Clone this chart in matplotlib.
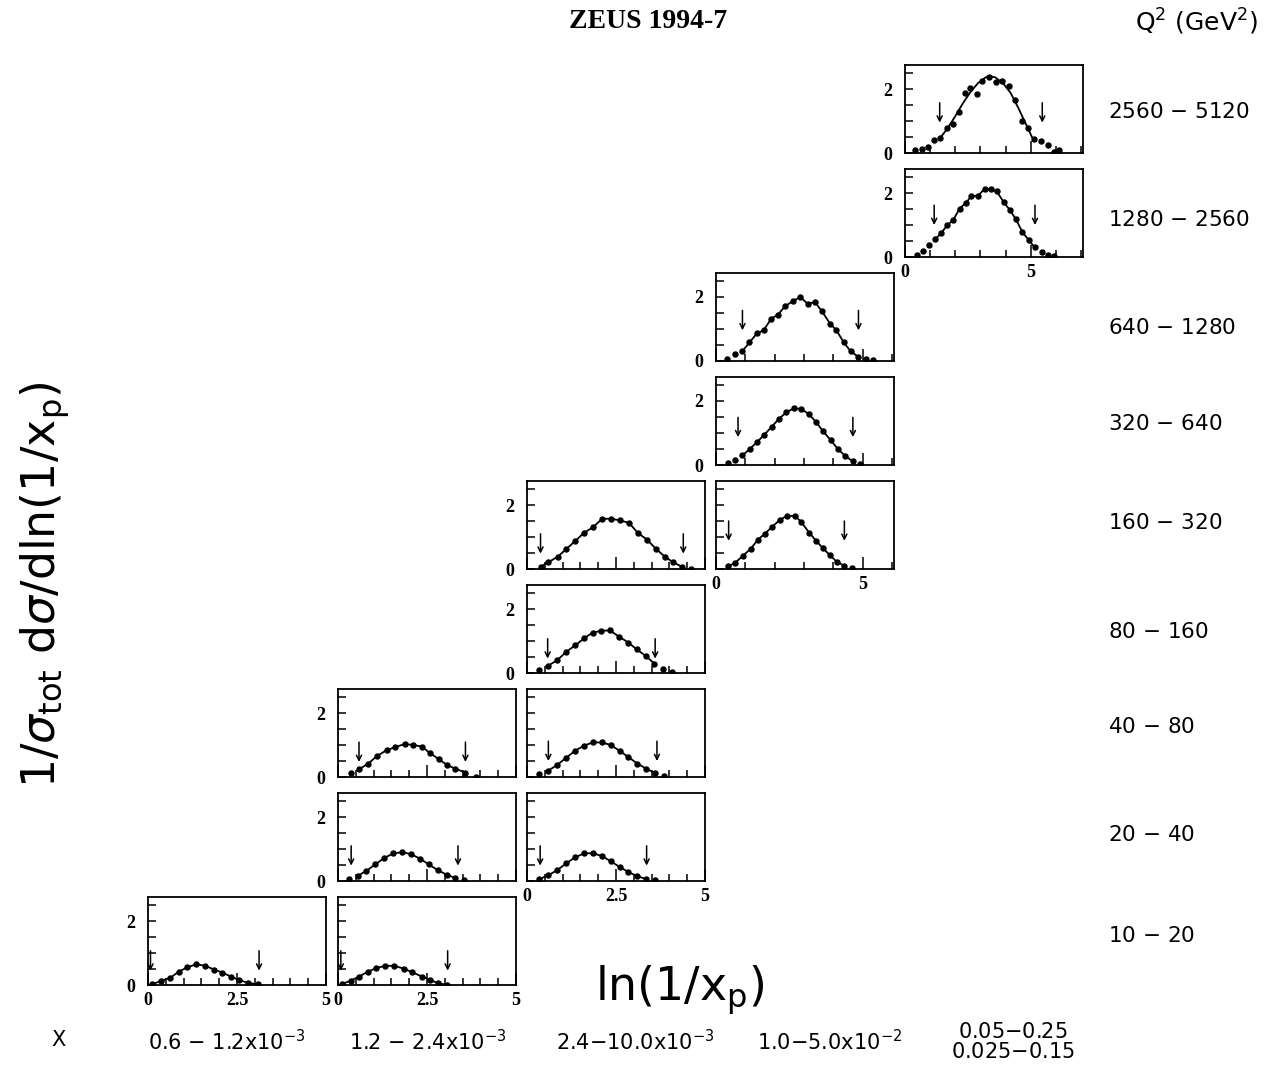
import matplotlib
matplotlib.use("Agg")
import matplotlib.pyplot as plt
from matplotlib.ticker import FixedLocator, NullFormatter

# ln(1/x_p) points per (Q2, x) bin, with the fit window edges (arrows)
q10_x06_x = [0.11, 0.37, 0.63, 0.87, 1.10, 1.36, 1.61, 1.86, 2.09, 2.33, 2.55, 2.80, 3.08]
q10_x06_y = [0.02, 0.13, 0.23, 0.42, 0.55, 0.65, 0.60, 0.48, 0.39, 0.26, 0.16, 0.07, 0.02]
q10_x06_arrows = [(0.07, 0.45), (3.12, 0.45)]

q10_x12_x = [0.10, 0.36, 0.59, 0.84, 1.08, 1.33, 1.58, 1.85, 2.08, 2.37, 2.59, 2.82, 3.06]
q10_x12_y = [0.02, 0.14, 0.26, 0.42, 0.53, 0.60, 0.60, 0.51, 0.40, 0.26, 0.16, 0.05, 0.01]
q10_x12_arrows = [(0.08, 0.45), (3.08, 0.45)]

q20_x12_x = [0.30, 0.55, 0.80, 1.05, 1.30, 1.55, 1.80, 2.05, 2.30, 2.55, 2.80, 3.05, 3.30, 3.55]
q20_x12_y = [0.05, 0.16, 0.32, 0.52, 0.72, 0.86, 0.90, 0.84, 0.70, 0.52, 0.34, 0.20, 0.09, 0.03]
q20_x12_arrows = [(0.37, 0.48), (3.37, 0.48)]

q20_x24_x = [0.35, 0.60, 0.85, 1.10, 1.35, 1.60, 1.85, 2.10, 2.35, 2.60, 2.85, 3.10, 3.35, 3.60]
q20_x24_y = [0.06, 0.18, 0.34, 0.55, 0.74, 0.86, 0.87, 0.78, 0.62, 0.44, 0.28, 0.15, 0.06, 0.02]
q20_x24_arrows = [(0.37, 0.48), (3.36, 0.48)]

q40_x12_x = [0.36, 0.59, 0.85, 1.10, 1.37, 1.60, 1.87, 2.12, 2.36, 2.59, 2.83, 3.07, 3.30, 3.57, 3.87]
q40_x12_y = [0.14, 0.24, 0.42, 0.66, 0.84, 0.93, 1.03, 1.00, 0.95, 0.74, 0.56, 0.37, 0.26, 0.14, 0.01]
q40_x12_arrows = [(0.59, 0.47), (3.58, 0.47)]

q40_x24_x = [0.35, 0.60, 0.85, 1.10, 1.35, 1.60, 1.85, 2.10, 2.35, 2.60, 2.85, 3.10, 3.35, 3.60, 3.85]
q40_x24_y = [0.08, 0.20, 0.38, 0.60, 0.82, 0.98, 1.08, 1.08, 1.00, 0.82, 0.62, 0.42, 0.26, 0.12, 0.04]
q40_x24_arrows = [(0.60, 0.50), (3.65, 0.50)]

q80_x24_x = [0.35, 0.58, 0.85, 1.10, 1.36, 1.60, 1.84, 2.09, 2.33, 2.58, 2.85, 3.08, 3.34, 3.58, 3.82, 4.08]
q80_x24_y = [0.10, 0.22, 0.40, 0.66, 0.87, 1.08, 1.26, 1.32, 1.33, 1.14, 0.95, 0.74, 0.53, 0.29, 0.14, 0.03]
q80_x24_arrows = [(0.58, 0.45), (3.60, 0.45)]

q160_x24_x = [0.38, 0.60, 0.87, 1.10, 1.36, 1.60, 1.86, 2.11, 2.36, 2.61, 2.87, 3.11, 3.37, 3.62, 3.87, 4.10, 4.36, 4.62]
q160_x24_y = [0.07, 0.21, 0.39, 0.62, 0.88, 1.13, 1.31, 1.57, 1.57, 1.52, 1.44, 1.13, 0.92, 0.63, 0.39, 0.21, 0.07, 0.00]
q160_x24_arrows = [(0.38, 0.48), (4.39, 0.48)]

q160_x1_x = [0.41, 0.66, 0.91, 1.18, 1.43, 1.66, 1.90, 2.17, 2.41, 2.69, 2.89, 3.17, 3.40, 3.63, 3.88, 4.12, 4.37, 4.63]
q160_x1_y = [0.08, 0.20, 0.41, 0.63, 0.92, 1.10, 1.31, 1.53, 1.66, 1.66, 1.48, 1.14, 0.89, 0.66, 0.43, 0.22, 0.10, 0.02]
q160_x1_arrows = [(0.43, 0.88), (4.37, 0.88)]

q320_x1_x = [0.40, 0.65, 0.90, 1.15, 1.40, 1.65, 1.90, 2.15, 2.40, 2.65, 2.90, 3.15, 3.40, 3.65, 3.90, 4.15, 4.40, 4.65, 4.90]
q320_x1_y = [0.05, 0.15, 0.30, 0.50, 0.72, 0.95, 1.20, 1.45, 1.65, 1.77, 1.75, 1.60, 1.35, 1.05, 0.78, 0.50, 0.28, 0.12, 0.03]
q320_x1_arrows = [(0.75, 0.87), (4.66, 0.87)]

q640_x1_x = [0.36, 0.64, 0.90, 1.14, 1.39, 1.62, 1.88, 2.11, 2.36, 2.62, 2.87, 3.12, 3.37,
             3.61, 3.88, 4.10, 4.35, 4.58, 4.83, 5.10, 5.35]
q640_x1_y = [0.06, 0.21, 0.31, 0.58, 0.86, 0.96, 1.32, 1.45, 1.72, 1.87, 2.00, 1.79, 1.84,
             1.55, 1.17, 0.96, 0.58, 0.31, 0.14, 0.06, 0.02]
q640_x1_arrows = [(0.90, 0.96), (4.85, 0.96)]

q1280_x5_x = [0.47, 0.71, 0.97, 1.20, 1.44, 1.68, 1.92, 2.17, 2.43, 2.64, 2.91, 3.17, 3.41, 3.65,
              3.92, 4.16, 4.41, 4.67, 4.93, 5.16, 5.43, 5.67, 5.91]
q1280_x5_y = [0.06, 0.19, 0.38, 0.55, 0.75, 0.99, 1.16, 1.51, 1.70, 1.90, 1.92, 2.13, 2.11, 2.05,
              1.72, 1.48, 1.18, 0.78, 0.52, 0.30, 0.16, 0.06, 0.02]
q1280_x5_arrows = [(1.16, 1.00), (5.17, 1.00)]

q2560_x5_x = [0.40, 0.67, 0.90, 1.14, 1.41, 1.68, 1.92, 2.14, 2.39, 2.60, 2.87, 3.08, 3.35, 3.62,
              3.86, 4.12, 4.38, 4.65, 4.89, 5.13, 5.40, 5.67, 5.94, 6.14]
q2560_x5_y = [0.08, 0.11, 0.18, 0.40, 0.46, 0.78, 0.91, 1.27, 1.87, 2.03, 1.84, 2.25, 2.36, 2.22,
              2.25, 2.09, 1.67, 1.00, 0.78, 0.43, 0.37, 0.24, 0.04, 0.08]
q2560_x5_arrows = [(1.38, 0.95), (5.46, 0.95)]
# fitted curve for the top bin, where the points scatter around it
q2560_fit_x = [1.38, 1.70, 2.00, 2.30, 2.60, 2.90, 3.20, 3.40, 3.60, 3.90, 4.20, 4.50, 4.80, 5.05]
q2560_fit_y = [0.45, 0.78, 1.15, 1.55, 1.90, 2.18, 2.36, 2.40, 2.36, 2.18, 1.88, 1.42, 0.92, 0.50]

q2_bins = ["10 $-$ 20", "20 $-$ 40", "40 $-$ 80", "80 $-$ 160", "160 $-$ 320",
           "320 $-$ 640", "640 $-$ 1280", "1280 $-$ 2560", "2560 $-$ 5120"]
x_bins = [r"0.6 $-$ 1.2x10$^{-3}$", r"1.2 $-$ 2.4x10$^{-3}$", r"2.4$-$10.0x10$^{-3}$",
          r"1.0$-$5.0x10$^{-2}$", "0.05$-$0.25\n0.025$-$0.15"]
x_max = [5.0, 5.0, 5.0, 6.06, 7.08]

# (column, row, x, y, arrows, fit curve or None)
panels = [
    (0, 0, q10_x06_x, q10_x06_y, q10_x06_arrows, None),
    (1, 0, q10_x12_x, q10_x12_y, q10_x12_arrows, None),
    (1, 1, q20_x12_x, q20_x12_y, q20_x12_arrows, None),
    (2, 1, q20_x24_x, q20_x24_y, q20_x24_arrows, None),
    (1, 2, q40_x12_x, q40_x12_y, q40_x12_arrows, None),
    (2, 2, q40_x24_x, q40_x24_y, q40_x24_arrows, None),
    (2, 3, q80_x24_x, q80_x24_y, q80_x24_arrows, None),
    (2, 4, q160_x24_x, q160_x24_y, q160_x24_arrows, None),
    (3, 4, q160_x1_x, q160_x1_y, q160_x1_arrows, None),
    (3, 5, q320_x1_x, q320_x1_y, q320_x1_arrows, None),
    (3, 6, q640_x1_x, q640_x1_y, q640_x1_arrows, None),
    (4, 7, q1280_x5_x, q1280_x5_y, q1280_x5_arrows, None),
    (4, 8, q2560_x5_x, q2560_x5_y, q2560_x5_arrows, (q2560_fit_x, q2560_fit_y)),
]

W, H = 1282, 1067
COL_LEFT = [148, 338, 527, 716, 905]
PANEL_W, PANEL_H = 178, 88
ROW_TOP0, ROW_STEP = 897, 104
TICK_FONT = dict(family="Liberation Serif", weight="bold", size=13)

fig = plt.figure(figsize=(W / 100, H / 100), dpi=100)
fig.patch.set_facecolor("white")


def fx(px):
    return px / W


def fy(py):
    return 1 - py / H


first_col = {}
last_row = {}
for col, row, *_ in panels:
    first_col[row] = min(first_col.get(row, 9), col)
    last_row[col] = min(last_row.get(col, 9), row)

for col, row, xs, ys, arrows, fit in panels:
    top = ROW_TOP0 - ROW_STEP * row
    ax = fig.add_axes([fx(COL_LEFT[col]), fy(top + PANEL_H), PANEL_W / W, PANEL_H / H])
    ax.set_xlim(0, x_max[col])
    ax.set_ylim(0, 2.75)
    for s in ax.spines.values():
        s.set_linewidth(1.3)

    lo, hi = arrows[0][0], arrows[1][0]
    if fit is None:
        cx = [x for x in xs if lo - 0.05 <= x <= hi + 0.05]
        cy = [y for x, y in zip(xs, ys) if lo - 0.05 <= x <= hi + 0.05]
    else:
        cx, cy = fit
    ax.plot(cx, cy, color="black", lw=1.3, zorder=2)
    ax.plot(xs, ys, "o", color="black", ms=3.6, zorder=3)

    for ax_x, tip in arrows:
        ax.annotate("", xy=(ax_x, tip), xytext=(ax_x, tip + 0.62),
                    arrowprops=dict(arrowstyle="->", lw=1.1, color="black",
                                    shrinkA=0, shrinkB=0, mutation_scale=9))

    ax.yaxis.set_major_locator(FixedLocator([0, 0.5, 1, 1.5, 2, 2.5]))
    ax.tick_params(axis="both", direction="in", length=6, width=1.1,
                   top=False, right=False)
    ax.tick_params(axis="y", pad=9)
    ax.tick_params(axis="x", pad=5)
    if col < 3:
        ax.xaxis.set_major_locator(FixedLocator([0, 2.5, 5]))
        ax.xaxis.set_minor_locator(FixedLocator([0.5 * i for i in range(1, 10)]))
    else:
        ax.xaxis.set_major_locator(FixedLocator([0, 5]))
        ax.xaxis.set_minor_locator(FixedLocator(list(range(1, int(x_max[col]) + 1))))
    ax.tick_params(axis="x", which="major", length=9)
    ax.tick_params(axis="x", which="minor", direction="in", length=5, width=1.1)

    if first_col[row] == col:
        ax.set_yticklabels(["0", "", "", "", "2", ""], fontdict=TICK_FONT)
    else:
        ax.yaxis.set_major_formatter(NullFormatter())
    if last_row[col] == row:
        if col < 3:
            ax.set_xticklabels(["0", "2.5", "5"], fontdict=TICK_FONT)
        else:
            ax.set_xticklabels(["0", "5"], fontdict=TICK_FONT)
    else:
        ax.xaxis.set_major_formatter(NullFormatter())

# labels around the grid
fig.text(fx(648), fy(22), "ZEUS 1994-7", ha="center", va="center",
         family="Liberation Serif", weight="bold", size=20)
fig.text(fx(1197), fy(22), r"Q$^2$ (GeV$^2$)", ha="center", va="center", size=18)

q2_label_y = [936, 835, 727, 632, 523, 424, 328, 220, 112]
for label, ly in zip(q2_bins, q2_label_y):
    fig.text(fx(1108), fy(ly), label, ha="left", va="center", size=15.5)

fig.text(fx(58), fy(1040), "X", ha="center", va="center", size=15)
x_label_x = [227, 428, 635, 830, 1013]
for label, lx in zip(x_bins, x_label_x):
    fig.text(fx(lx), fy(1042), label, ha="center", va="center", size=15,
             linespacing=1.0)

fig.text(fx(45), fy(585), r"1/$\sigma_{\rm tot}$ d$\sigma$/dln(1/x$_{\rm p}$)",
         ha="center", va="center", rotation=90, size=33)
fig.text(fx(680), fy(990), r"ln(1/x$_{\rm p}$)", ha="center", va="center", size=33)

fig.savefig("out.png", dpi=100, facecolor="white")
